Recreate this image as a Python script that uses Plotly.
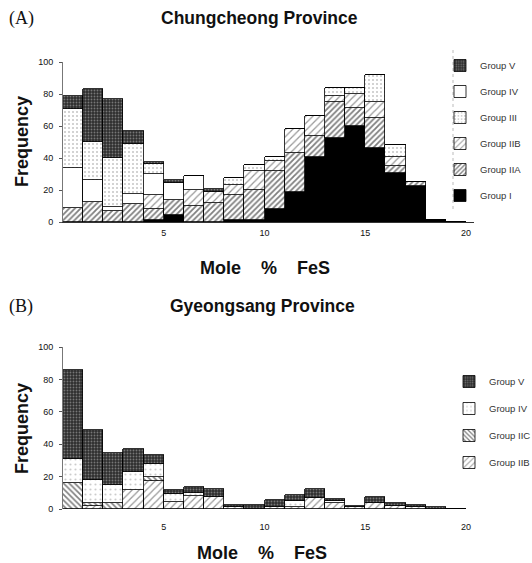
import plotly.graph_objects as go

W, H = 532, 563

# ---------------- data ----------------
bin_left = list(range(0, 20))          # 1 mol% FeS bins, 0-1 ... 19-20
bin_width = 1

# (A) Chungcheong Province, frequency per group (stack bottom -> top)
a_group_I   = [0, 0, 0, 0, 1, 4.5, 0, 0, 1, 1, 8, 19, 40.5, 52.5, 60, 46, 30.5, 22.8, 1.5, 0]
a_group_IIA = [9, 12.6, 6.6, 11.2, 7.3, 9.5, 9.7, 12, 15.6, 19, 24, 24, 13.5, 22.5, 11, 19, 4.5, 2.5, 0, 0]
a_group_IIB = [0, 0, 0, 0, 8.7, 0, 10.3, 6.7, 6.4, 12, 6, 15, 12, 4, 9, 9.7, 5.4, 0, 0, 0]
a_group_IV  = [24.6, 13.4, 2.9, 6.2, 13, 10.3, 9, 0, 0, 0, 0, 0, 0, 0, 0, 0, 0, 0, 0, 0]
a_group_III = [36.9, 24, 30.5, 31.6, 6, 0, 0, 0, 4.4, 3.7, 2.8, 0, 0, 5, 4, 17, 7.6, 0, 0, 0]
a_group_V   = [8.5, 33, 36.6, 8, 1.7, 2, 0, 2, 0, 0, 0, 0, 0, 0, 0, 0, 0, 0, 0, 0]

# (B) Gyeongsang Province
b_group_IIB = [0, 2, 0, 12, 17, 4.5, 8, 7.6, 1, 0, 1.5, 1, 6.5, 4, 1.5, 4, 2, 1.5, 0, 0]
b_group_IIC = [16, 2, 4, 0, 3, 0, 0, 0, 0, 0, 0, 0.5, 0, 0, 0, 0, 0, 0, 0, 0]
b_group_IV  = [15, 14, 11, 11, 8, 5, 2, 0, 0, 0, 0, 3.5, 0, 1, 0, 0, 0, 0, 0, 0]
b_group_V   = [55, 31, 19.5, 14, 5.4, 2, 3.4, 4.8, 1.5, 2.6, 4, 3.5, 6, 1, 0.5, 3.2, 1.5, 1.2, 1.1, 0]

y_ticks = [0, 20, 40, 60, 80, 100]
x_ticks = [5, 10, 15, 20]

# ---------------- styles ----------------
styles = {
    "Group I":   dict(color="black"),
    "Group IIA": dict(color="white", pattern=dict(shape="/", fgcolor="black", bgcolor="white", size=4, solidity=0.45)),
    "Group IIB": dict(color="white", pattern=dict(shape="/", fgcolor="#333333", bgcolor="white", size=5, solidity=0.25)),
    "Group IIC": dict(color="white", pattern=dict(shape="\\", fgcolor="black", bgcolor="white", size=4, solidity=0.4)),
    "Group III": dict(color="white", pattern=dict(shape=".", fgcolor="#8a8a8a", bgcolor="white", size=4, solidity=0.2)),
    "Group IV":  dict(color="white"),
    "Group IVb": dict(color="white", pattern=dict(shape=".", fgcolor="#9a9a9a", bgcolor="white", size=5, solidity=0.15)),
    "Group V":   dict(color="#3a3a3a", pattern=dict(shape=".", fgcolor="#c0c0c0", bgcolor="#2e2e2e", size=3, solidity=0.3)),
}

x_centers = [b + bin_width / 2 for b in bin_left]

fig = go.Figure()

def add(name, vals, xa, ya, legend, rank, style_key=None):
    st = dict(styles[style_key or name])
    st["line"] = dict(color="black", width=0.8)
    fig.add_trace(go.Bar(
        x=x_centers, y=vals, width=bin_width, name=name,
        marker=st, xaxis=xa, yaxis=ya, legend=legend,
        legendgroup=legend + name, legendrank=rank, showlegend=True,
    ))

add("Group I", a_group_I, "x", "y", "legend", 6)
add("Group IIA", a_group_IIA, "x", "y", "legend", 5)
add("Group IIB", a_group_IIB, "x", "y", "legend", 4)
add("Group IV", a_group_IV, "x", "y", "legend", 2)
add("Group III", a_group_III, "x", "y", "legend", 3)
add("Group V", a_group_V, "x", "y", "legend", 1)

add("Group IIB", b_group_IIB, "x2", "y2", "legend2", 4)
add("Group IIC", b_group_IIC, "x2", "y2", "legend2", 3)
add("Group IV", b_group_IV, "x2", "y2", "legend2", 2, "Group IVb")
add("Group V", b_group_V, "x2", "y2", "legend2", 1)

# pixel helpers for domains
x0_px, px_per_unit = 63, 20.15
xr = [0, 20.4]
xdom = [x0_px / W, (x0_px + xr[1] * px_per_unit) / W]

def ydom(bottom_px, top_px):
    return [1 - bottom_px / H, 1 - top_px / H]

tickfont = dict(family="Liberation Sans, Arial, sans-serif", size=9, color="#111111")

common_x = dict(range=xr, tickvals=x_ticks, ticks="", showgrid=False, zeroline=False,
                tickfont=tickfont, domain=xdom, fixedrange=True, automargin=False)
common_y = dict(range=[0, 100], tickvals=y_ticks, ticks="outside", ticklen=3, tickcolor="#555",
                showgrid=False, zeroline=False, showline=True, linecolor="#777", linewidth=1,
                tickfont=tickfont, ticklabelstandoff=4, automargin=False)

legend_font = dict(family="Liberation Sans, Arial, sans-serif", size=9.5, color="#333")

fig.update_layout(
    width=W, height=H, margin=dict(l=0, r=0, t=0, b=0, autoexpand=False),
    paper_bgcolor="white", plot_bgcolor="white",
    barmode="stack", bargap=0,
    xaxis=dict(common_x, anchor="y", showline=True, linecolor="#333", linewidth=1, ticklabelstandoff=2),
    yaxis=dict(common_y, domain=ydom(222, 62), anchor="x"),
    xaxis2=dict(common_x, anchor="y2", showline=False, ticklabelstandoff=11),
    yaxis2=dict(common_y, domain=ydom(509, 347), anchor="x2"),
    legend=dict(x=440 / W, y=1 - 51 / H, xanchor="left", yanchor="top",
                traceorder="grouped", tracegroupgap=7,
                font=legend_font, bgcolor="rgba(0,0,0,0)"),
    legend2=dict(x=449 / W, y=1 - 367 / H, xanchor="left", yanchor="top",
                 traceorder="grouped", tracegroupgap=8,
                 font=legend_font, bgcolor="rgba(0,0,0,0)"),
    showlegend=True,
)

title_font = dict(family="Liberation Sans, Arial, sans-serif", size=17.5, color="#111")
axis_font = dict(family="Liberation Sans, Arial, sans-serif", size=18, color="#111")
label_font = dict(family="Liberation Serif, Times New Roman, serif", size=18, color="#111")

sp = "\u00a0" * 4
ann = [
    dict(text="<b>Chungcheong Province</b>", x=259 / W, y=1 - 18 / H, font=title_font),
    dict(text="(A)", x=21 / W, y=1 - 19 / H, font=label_font),
    dict(text="<b>Gyeongsang Province</b>", x=262 / W, y=1 - 306 / H, font=title_font),
    dict(text="(B)", x=21 / W, y=1 - 306 / H, font=label_font),
    dict(text="<b>Frequency</b>", x=22 / W, y=1 - 142 / H, font=axis_font, textangle=-90),
    dict(text="<b>Frequency</b>", x=22 / W, y=1 - 429 / H, font=axis_font, textangle=-90),
    dict(text=f"<b>Mole{sp}%{sp}FeS</b>", x=265 / W, y=1 - 268 / H, font=axis_font),
    dict(text=f"<b>Mole{sp}%{sp}FeS</b>", x=262 / W, y=1 - 553 / H, font=axis_font),
]
for a in ann:
    a.update(xref="paper", yref="paper", showarrow=False, xanchor="center", yanchor="middle")
    fig.add_annotation(**a)

# faint dotted legend border (left side) in panel A
fig.add_shape(type="line", xref="paper", yref="paper",
              x0=453 / W, x1=453 / W, y0=1 - 50 / H, y1=1 - 212 / H,
              line=dict(color="#bbb", width=1, dash="dot"))

fig.write_html("out.html")
